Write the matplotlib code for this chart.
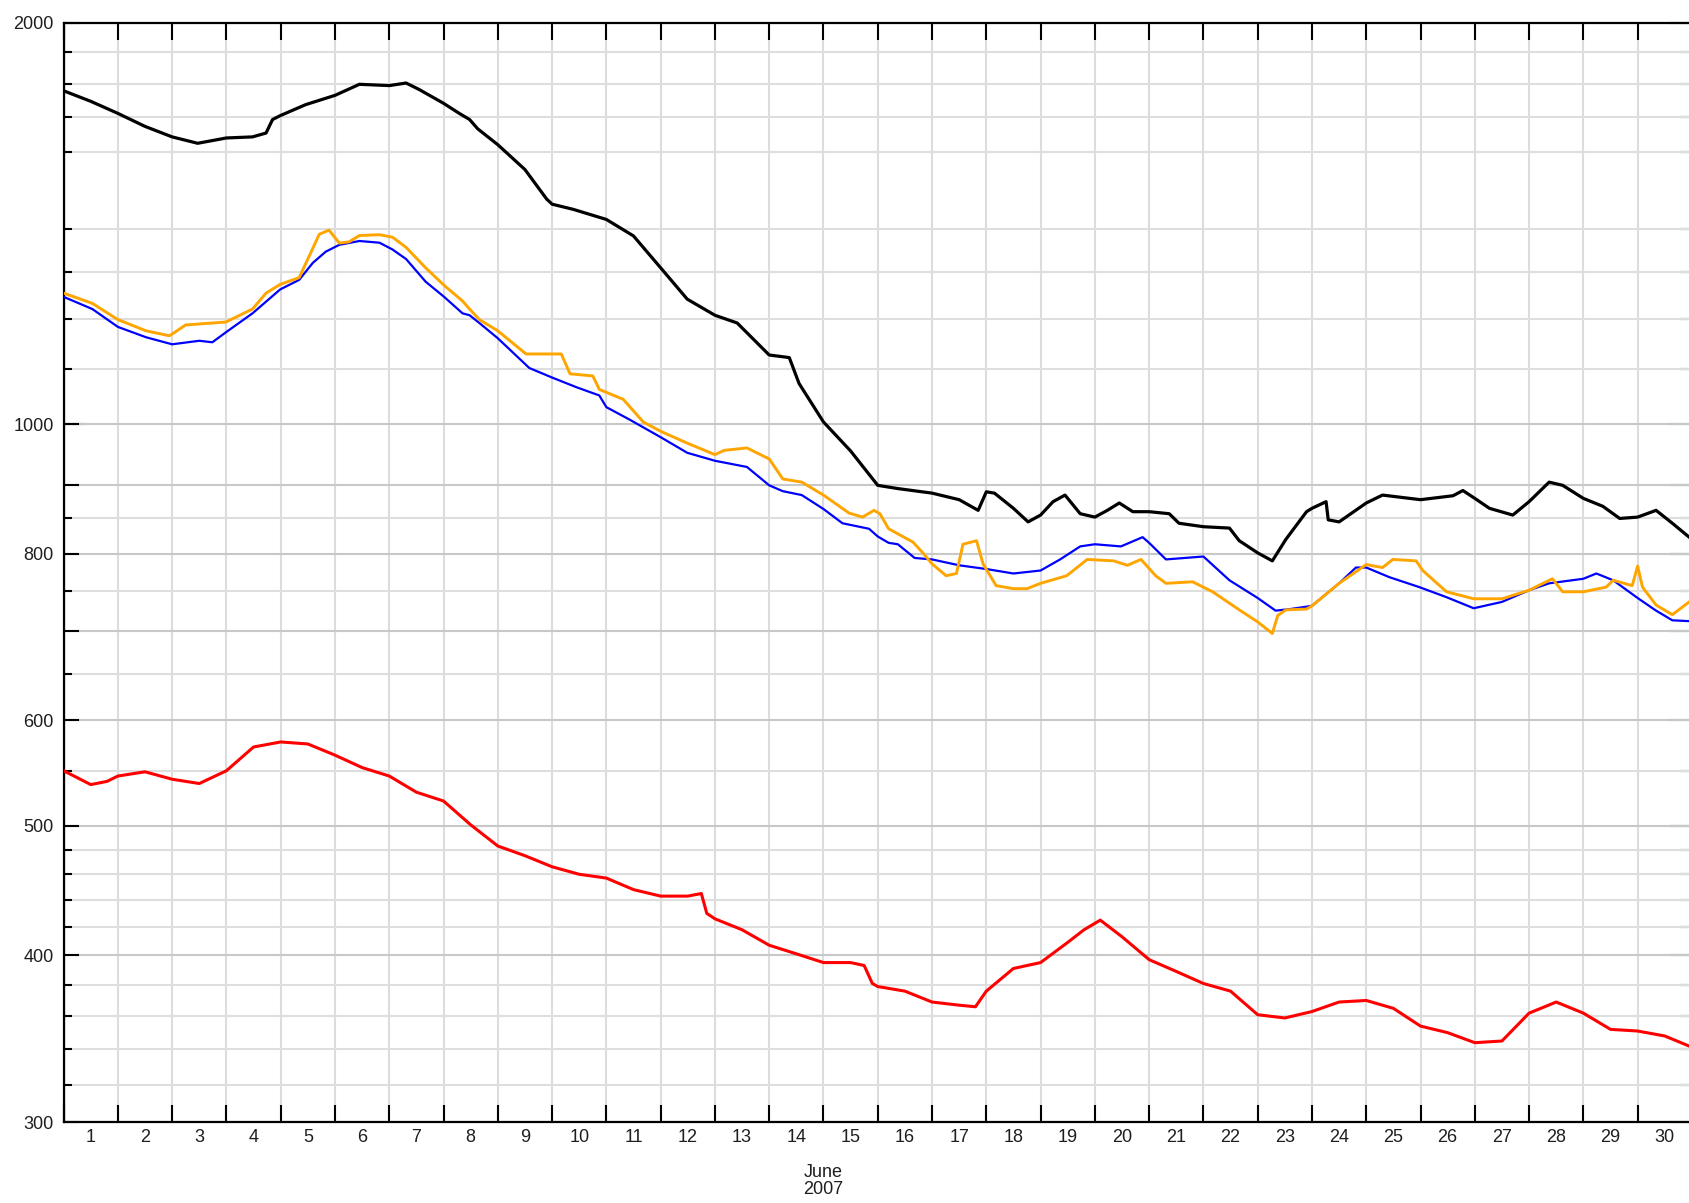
import matplotlib
matplotlib.use("Agg")
import matplotlib.pyplot as plt
from matplotlib.ticker import FixedLocator, FixedFormatter, NullFormatter

plt.rcParams["font.family"] = ["Liberation Sans", "DejaVu Sans"]

# June 2007, x in fractional day-of-month
black_days = [1.0, 1.5, 2.0, 2.5, 3.0, 3.47, 4.0, 4.48, 4.73, 4.85, 5.0, 5.46, 6.0, 6.45,
              7.0, 7.31, 7.55, 8.0, 8.29, 8.48, 8.63, 9.0, 9.5, 9.9, 10.0, 10.39, 11.0,
              11.5, 12.0, 12.49, 13.0, 13.41, 14.0, 14.37, 14.55, 15.0, 15.5, 16.0,
              16.37, 17.0, 17.5, 17.85, 18.0, 18.15, 18.5, 18.77, 19.0, 19.23, 19.45,
              19.73, 20.0, 20.23, 20.45, 20.7, 21.0, 21.37, 21.55, 22.0, 22.48, 22.66,
              23.0, 23.27, 23.52, 23.9, 24.0, 24.26, 24.3, 24.5, 25.0, 25.3, 26.0, 26.6,
              26.78, 27.0, 27.27, 27.7, 28.0, 28.37, 28.62, 29.0, 29.36, 29.67, 30.0,
              30.34, 30.64, 30.95]
black_vals = [1778, 1746, 1710, 1672, 1642, 1624, 1639, 1642, 1653, 1692, 1704, 1736, 1764, 1798,
              1794, 1802, 1782, 1740, 1710, 1692, 1665, 1620, 1552, 1475, 1462, 1449, 1424,
              1384, 1310, 1241, 1207, 1191, 1127, 1122, 1073, 1004, 955, 900,
              895, 888, 878, 862, 890, 888, 865, 845, 855, 875, 885,
              857, 852, 862, 873, 860, 860, 857, 843, 838, 836, 818,
              801, 790, 820, 860, 865, 875, 848, 845, 873, 885, 878, 884,
              892, 880, 865, 855, 875, 905, 900, 880, 868, 850, 852,
              862, 843, 823]

orange_days = [1.0, 1.53, 2.0, 2.52, 2.95, 3.25, 3.99, 4.48, 4.73, 4.99, 5.34, 5.5, 5.71, 5.89,
               6.08, 6.26, 6.45, 6.82, 7.06, 7.31, 7.67, 8.01, 8.35, 8.48, 8.66, 9.0, 9.52,
               9.9, 10.17, 10.33, 10.75, 10.87, 11.31, 11.68, 12.0, 12.49, 13.0, 13.17,
               13.59, 14.0, 14.25, 14.6, 15.0, 15.47, 15.72, 15.93, 16.04, 16.2, 16.65,
               16.83, 17.0, 17.26, 17.45, 17.57, 17.82, 17.94, 18.18, 18.5, 18.75, 19.0,
               19.48, 19.86, 20.35, 20.6, 20.85, 21.12, 21.31, 21.8, 22.17, 22.66, 23.0,
               23.27, 23.37, 23.52, 23.9, 24.0, 24.5, 25.0, 25.3, 25.49, 25.92, 26.04,
               26.48, 26.98, 27.5, 28.0, 28.43, 28.62, 29.0, 29.42, 29.55, 29.9, 30.0,
               30.09, 30.34, 30.64, 30.95]
orange_vals = [1254, 1232, 1198, 1175, 1165, 1187, 1193, 1220, 1254, 1273, 1288, 1330, 1388, 1398,
               1367, 1370, 1385, 1387, 1381, 1357, 1310, 1271, 1237, 1220, 1198, 1175, 1129,
               1129, 1129, 1091, 1087, 1062, 1044, 1004, 988, 968, 949, 956,
               960, 942, 910, 905, 885, 858, 852, 862, 857, 835, 816,
               801, 786, 770, 773, 813, 818, 786, 757, 753, 753, 760,
               770, 792, 790, 784, 792, 770, 760, 762, 749, 726, 711,
               697, 719, 726, 727, 731, 760, 785, 781, 792, 790, 777,
               749, 740, 740, 751, 766, 749, 749, 755, 764, 757, 783,
               755, 732, 720, 736]

blue_days = [1.0, 1.53, 2.0, 2.52, 3.0, 3.5, 3.74, 3.99, 4.48, 4.99, 5.34, 5.59, 5.83, 6.08,
             6.45, 6.82, 7.06, 7.31, 7.67, 8.01, 8.35, 8.48, 8.66, 9.0, 9.58, 10.0, 10.45,
             10.87, 11.0, 11.43, 12.0, 12.49, 13.0, 13.59, 14.0, 14.25, 14.6, 15.0, 15.35,
             15.84, 16.0, 16.2, 16.37, 16.68, 17.0, 17.5, 18.0, 18.5, 19.0, 19.36, 19.73,
             20.0, 20.48, 20.88, 21.0, 21.31, 22.0, 22.48, 23.0, 23.33, 23.6, 24.0, 24.5,
             24.81, 25.0, 25.43, 25.98, 26.48, 26.98, 27.5, 28.0, 28.37, 29.0, 29.24,
             29.55, 30.0, 30.34, 30.64, 30.95]
blue_vals = [1246, 1220, 1183, 1162, 1148, 1155, 1152, 1172, 1211, 1262, 1283, 1321, 1347, 1363,
             1372, 1368, 1352, 1330, 1279, 1246, 1211, 1207, 1191, 1160, 1102, 1084, 1066,
             1051, 1030, 1008, 978, 952, 939, 929, 900, 891, 885, 864, 843,
             835, 824, 815, 813, 794, 792, 784, 779, 773, 777, 792, 810,
             813, 810, 823, 815, 792, 796, 764, 741, 725, 727, 731, 760,
             781, 781, 768, 755, 742, 728, 736, 751, 760, 766, 773,
             764, 741, 725, 713, 712]

red_days = [1.0, 1.5, 1.8, 2.0, 2.5, 3.0, 3.5, 4.0, 4.5, 5.0, 5.5, 6.0, 6.5, 7.0, 7.5, 8.0,
            8.5, 9.0, 9.5, 10.0, 10.5, 11.0, 11.5, 12.0, 12.5, 12.75, 12.85, 13.0, 13.5,
            14.0, 14.5, 15.0, 15.5, 15.75, 15.9, 16.0, 16.5, 17.0, 17.5, 17.8, 18.0, 18.5,
            19.0, 19.5, 19.8, 20.1, 20.5, 21.0, 21.5, 22.0, 22.5, 23.0, 23.5, 24.0, 24.5,
            25.0, 25.5, 26.0, 26.5, 27.0, 27.5, 28.0, 28.5, 29.0, 29.5, 30.0, 30.5, 30.95]
red_vals = [550, 537, 540, 545, 549, 542, 538, 550, 573, 578, 576, 565, 553, 545, 530, 522,
            501, 483, 475, 466, 460, 457, 448, 443, 443, 445, 430, 426, 418,
            407, 401, 395, 395, 393, 381, 379, 376, 369, 367, 366, 376, 391,
            395, 409, 418, 425, 413, 397, 389, 381, 376, 361, 359, 363, 369,
            370, 365, 354, 350, 344, 345, 362, 369, 362, 352, 351, 348, 342]

y_labelled = [300, 400, 500, 600, 700, 800, 900, 1000, 2000]
y_label_text = ["300", "400", "500", "600", "", "800", "", "1000", "2000"]
y_minor = [320, 340, 360, 380, 420, 440, 460, 480, 550, 650, 750, 850,
           1100, 1200, 1300, 1400, 1600, 1700, 1800, 1900]
day_bounds = list(range(1, 32))
day_names = [str(d) for d in range(1, 31)]

W, H = 1690, 1203
fig = plt.figure(figsize=(W / 100, H / 100), dpi=100)
ax = fig.add_axes([63.6 / W, (H - 1122) / H, 1628.3 / W, 1099.4 / H])

ax.plot(black_days, black_vals, color="black", lw=2.3, zorder=3)
ax.plot(blue_days, blue_vals, color="#0000ff", lw=1.6, zorder=3)
ax.plot(orange_days, orange_vals, color="#ffa500", lw=2.1, zorder=3)
ax.plot(red_days, red_vals, color="#ff0000", lw=2.2, zorder=3)

ax.set_yscale("log")
ax.set_ylim(300, 2000)
ax.set_xlim(1, 31)

ax.yaxis.set_major_locator(FixedLocator(y_labelled))
ax.yaxis.set_major_formatter(FixedFormatter(y_label_text))
ax.yaxis.set_minor_locator(FixedLocator(y_minor))
ax.yaxis.set_minor_formatter(NullFormatter())

ax.xaxis.set_major_locator(FixedLocator(day_bounds))
ax.xaxis.set_major_formatter(NullFormatter())
ax.xaxis.set_minor_locator(FixedLocator([d + 0.5 for d in range(1, 31)]))
ax.xaxis.set_minor_formatter(FixedFormatter(day_names))

ax.grid(True, which="major", axis="x", color="#dcdcdc", lw=1.5, zorder=0)
ax.grid(True, which="major", axis="y", color="#c8c8c8", lw=1.5, zorder=0)
ax.grid(True, which="minor", axis="y", color="#dedede", lw=1.5, zorder=0)
ax.set_axisbelow(True)

for s in ax.spines.values():
    s.set_linewidth(1.6)
    s.set_color("black")

FS = 13
TXT = "#1e1e1e"
ax.tick_params(axis="y", which="major", direction="in", length=11, width=1.5,
               labelsize=FS, labelcolor=TXT, pad=7, right=False)
ax.tick_params(axis="y", which="minor", direction="in", length=6, width=1.5, right=False)
ax.tick_params(axis="x", which="major", direction="in", length=12.5, width=1.5,
               top=True)
ax.tick_params(axis="x", which="minor", length=0, labelsize=FS,
               labelcolor=TXT, pad=5)

# right-hand ticks are longer than the left ones
ry = ax.secondary_yaxis("right")
ry.set_yticks(y_labelled)
ry.yaxis.set_minor_locator(FixedLocator(y_minor))
ry.yaxis.set_major_formatter(NullFormatter())
ry.yaxis.set_minor_formatter(NullFormatter())
ry.tick_params(which="major", direction="in", length=16, width=1.5)
ry.tick_params(which="minor", direction="in", length=8.6, width=1.5)

# the 1000 tick on the left sticks out further
ly = ax.secondary_yaxis("left")
ly.set_yticks([1000])
ly.yaxis.set_major_formatter(NullFormatter())
ly.yaxis.set_minor_locator(FixedLocator([]))
ly.tick_params(which="major", direction="in", length=16, width=1.5)

ax.annotate("June\n2007", xy=(15, 0), xycoords=("data", "axes fraction"),
            xytext=(0, -30), textcoords="offset points", ha="center", va="top",
            fontsize=FS, color=TXT, linespacing=1.0)

fig.savefig("out.png", dpi=100)
